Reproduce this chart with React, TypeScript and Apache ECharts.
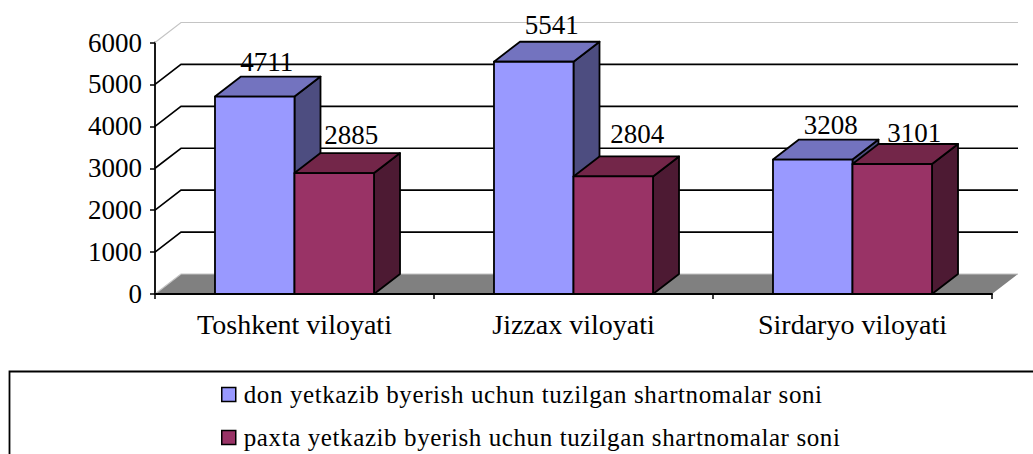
import React, { useEffect, useRef } from "react";
import * as echarts from "echarts";

const categories = ["Toshkent viloyati", "Jizzax viloyati", "Sirdaryo viloyati"];
const donName = "don yetkazib byerish uchun tuzilgan shartnomalar soni";
const paxtaName = "paxta yetkazib byerish uchun tuzilgan shartnomalar soni";
const donValues = [4711, 5541, 3208];
const paxtaValues = [2885, 2804, 3101];
const gridTicks = [0, 1000, 2000, 3000, 4000, 5000, 6000];

const DX = 26;
const DY = -20;
const FONT = "'Liberation Serif', 'Times New Roman', serif";

function barRenderer(seriesIndex: number, face: string, top: string, side: string, labelDx: number[], labelDy: number[]) {
  return (params: any, api: any) => {
    const i = api.value(0);
    const v = api.value(1);
    const base = api.coord([i, 0]);
    const head = api.coord([i, v]);
    const w = api.size([1, 0])[0] * 0.285;
    const x0 = base[0] + (seriesIndex === 0 ? -w : 0);
    const x1 = x0 + w;
    const yB = base[1];
    const yT = head[1];
    const stroke = { stroke: "#000", lineWidth: 1.8, lineJoin: "round" };
    return {
      type: "group",
      children: [
        { type: "polygon", shape: { points: [[x1, yB], [x1 + DX, yB + DY], [x1 + DX, yT + DY], [x1, yT]] }, style: { fill: side, ...stroke } },
        { type: "polygon", shape: { points: [[x0, yT], [x0 + DX, yT + DY], [x1 + DX, yT + DY], [x1, yT]] }, style: { fill: top, ...stroke } },
        { type: "rect", shape: { x: x0, y: yT, width: w, height: yB - yT }, style: { fill: face, ...stroke } },
        {
          type: "text",
          x: (x0 + x1) / 2 + DX / 2 + labelDx[i],
          y: yT + DY - 17 + labelDy[i],
          z2: 50,
          style: { text: String(v), fill: "#000", font: `27px ${FONT}`, align: "center", verticalAlign: "middle" },
        },
      ],
    };
  };
}

function wallRenderer(params: any, api: any) {
  const v = api.value(0);
  const p = api.coord([0, v]);
  const x0 = p[0] - api.size([1, 0])[0] / 2;
  const x1 = x0 + api.size([1, 0])[0] * 3;
  const isTop = v === 6000;
  const isFloor = v === 0;
  const color = isTop || isFloor ? "#c4c4c4" : "#000";
  const children: any[] = [];
  if (isFloor) {
    children.push({
      type: "polygon",
      shape: { points: [[x0, p[1]], [x0 + DX, p[1] + DY], [x1 + DX, p[1] + DY], [x1, p[1]]] },
      style: { fill: "#808080" },
    });
  }
  children.push({
    type: "polyline",
    shape: { points: [[x0, p[1]], [x0 + DX, p[1] + DY], [x1 + DX, p[1] + DY]] },
    style: { stroke: color, lineWidth: isTop || isFloor ? 1.2 : 1.6, fill: "none" },
  });
  return { type: "group", children };
}

export default function App() {
  const ref = useRef<HTMLDivElement>(null);
  useEffect(() => {
    document.body.style.margin = "0";
    const css = document.createElement("style");
    css.textContent = 'text[style*="25px"]{letter-spacing:.6px}';
    document.head.appendChild(css);
    const chart = echarts.init(ref.current!, undefined, { renderer: "svg" });
    chart.setOption({
      animation: false,
      backgroundColor: "#fff",
      grid: { left: 155, right: 41, top: 42.5, bottom: 160 },
      xAxis: {
        type: "category",
        data: categories,
        axisLine: { lineStyle: { color: "#000", width: 2 } },
        axisTick: { show: true, alignWithLabel: false, length: 5, lineStyle: { color: "#000", width: 1.5 } },
        axisLabel: { color: "#000", fontFamily: FONT, fontSize: 28, margin: 16 },
        splitLine: { show: false },
        z: 5,
      },
      yAxis: {
        type: "value",
        min: 0,
        max: 6000,
        interval: 1000,
        axisLine: { show: true, lineStyle: { color: "#000", width: 1.8 } },
        axisTick: { show: true, length: 5, lineStyle: { color: "#000", width: 1.5 } },
        axisLabel: { color: "#000", fontFamily: FONT, fontSize: 27, margin: 13, formatter: (v: number) => String(v) },
        splitLine: { show: false },
      },
      legend: {
        orient: "vertical",
        left: 221,
        top: 382,
        padding: 0,
        itemWidth: 14,
        itemHeight: 14,
        itemGap: 18,
        selectedMode: false,
        data: [
          { name: donName, icon: "rect", itemStyle: { color: "#9999ff", borderColor: "#000", borderWidth: 1.5 } },
          { name: paxtaName, icon: "rect", itemStyle: { color: "#993366", borderColor: "#000", borderWidth: 1.5 } },
        ],
        textStyle: { color: "#000", fontFamily: FONT, fontSize: 25, padding: [0, 0, 0, 3] },
      },
      graphic: [
        { type: "polyline", shape: { points: [[9.5, 454], [9.5, 371.5], [1033, 371.5]] }, style: { stroke: "#000", lineWidth: 1.8, fill: "none" } },
      ],
      series: [
        {
          type: "custom",
          name: "wall",
          coordinateSystem: "cartesian2d",
          renderItem: wallRenderer,
          data: gridTicks.map((v) => [v]),
          encode: { y: 0 },
          silent: true,
          z: 1,
        },
        {
          type: "custom",
          name: donName,
          coordinateSystem: "cartesian2d",
          renderItem: barRenderer(0, "#9999ff", "#7373bf", "#4d4d80", [-1, 5, 5], [2, 0, 2]),
          data: donValues.map((v, i) => [i, v]),
          encode: { x: 0, y: 1 },
          itemStyle: { color: "#9999ff" },
          z: 2,
        },
        {
          type: "custom",
          name: paxtaName,
          coordinateSystem: "cartesian2d",
          renderItem: barRenderer(1, "#993366", "#732649", "#4d1a33", [4, 11, 9], [-1, -5, 6]),
          data: paxtaValues.map((v, i) => [i, v]),
          encode: { x: 0, y: 1 },
          itemStyle: { color: "#993366" },
          z: 3,
        },
      ],
    });
    return () => {
      chart.dispose();
      css.remove();
    };
  }, []);
  return <div ref={ref} style={{ width: 1033, height: 454 }} />;
}
